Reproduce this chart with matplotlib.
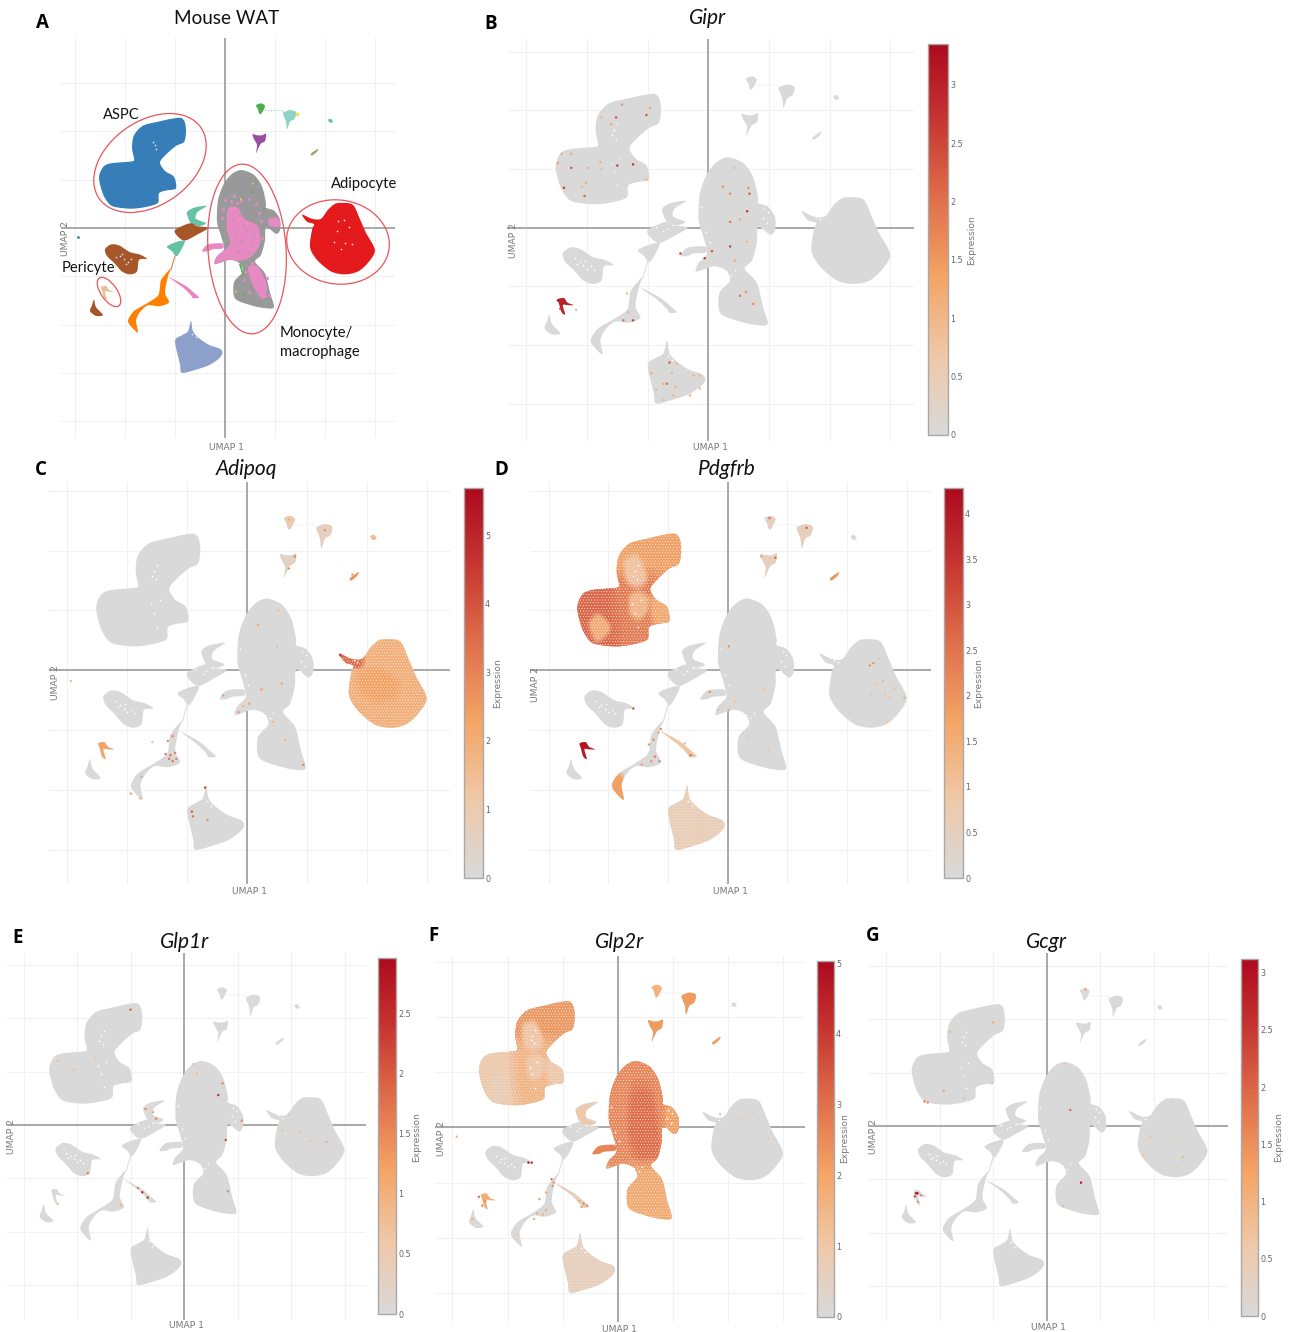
import numpy as np
import matplotlib
matplotlib.use('Agg')
import matplotlib.pyplot as plt
from matplotlib.colors import LinearSegmentedColormap, Normalize
from matplotlib.cm import ScalarMappable
from matplotlib.patches import Polygon, Ellipse

# ---------- cluster outlines, in UMAP units ----------
aspc = [(-4.4,11.4),(-4.0,10.9),(-3.9,9.9),(-4.1,8.9),(-4.9,8.5),(-5.9,7.6),(-6.5,6.8),(-6.0,5.9),(-5.1,5.3),(-4.9,4.1),(-5.8,3.9),(-6.6,3.6),(-6.7,2.6),(-7.8,2.2),(-9.2,2.0),(-10.6,2.1),(-11.5,2.4),(-12.2,3.5),(-12.6,5.2),(-12.2,6.3),(-11.4,6.7),(-9.3,6.9),(-9.1,7.2),(-9.3,8.3),(-9.1,9.6),(-8.2,10.6),(-6.7,11.0),(-5.4,11.3)]
mono = [(1.65,6.0),(2.9,5.5),(3.7,4.3),(4.1,2.6),(4.1,2.1),(4.9,1.8),(5.5,0.9),(5.5,-0.2),(5.1,-0.6),(4.1,0.1),(4.0,-1.3),(3.6,-2.8),(3.0,-3.5),(4.0,-4.7),(4.5,-6.7),(4.9,-8.2),(4.0,-8.3),(2.6,-8.0),(1.0,-7.3),(0.9,-5.6),(1.8,-4.5),(1.4,-3.6),(0.4,-3.3),(-1.0,-3.75),(-0.8,-3.0),(-0.1,-2.2),(-0.4,-0.8),(-0.8,0.65),(-0.7,2.9),(-0.1,4.6),(0.7,5.6)]
mono_tail = [(-2.3,-2.4),(-1.7,-1.7),(-0.3,-1.6),(-0.2,-2.1),(-1.2,-2.2),(-1.7,-2.4)]
pink_main = [(0.5,2.2),(1.3,2.1),(2.0,0.9),(3.3,0.2),(3.5,-1.6),(2.7,-2.9),(1.5,-3.4),(0.4,-3.3),(-1.0,-3.7),(-0.8,-2.9),(0.5,-1.7),(0.2,-0.2),(0.2,1.6)]
pink_low = [(2.3,-4.1),(3.3,-4.0),(4.2,-6.0),(3.8,-7.4),(2.8,-6.0)]
pink_right = [(4.4,1.0),(5.3,1.0),(5.5,0.2),(4.5,0.2)]
adipocyte = [(11.7,2.6),(12.8,2.4),(13.5,0.9),(14.1,-0.5),(15.0,-2.3),(14.3,-3.6),(13.3,-4.5),(12.0,-4.8),(10.6,-4.5),(9.2,-3.3),(8.5,-2.0),(8.7,-0.2),(8.9,0.4),(8.2,0.65),(7.7,1.4),(8.7,0.95),(9.6,0.95),(10.3,1.9),(11.0,2.5)]
adipo_tail = [(7.5,1.6),(8.7,1.1),(9.7,1.1),(9.6,0.3),(8.9,0.2),(8.2,0.5)]
adipo_core = [(9.3,-0.3),(11.0,0.1),(12.6,-0.9),(12.4,-2.3),(10.6,-2.6),(9.4,-1.7)]
teal_up = [(-3.8,1.65),(-3.1,2.1),(-1.8,2.3),(-2.75,1.65),(-2.9,0.95),(-1.9,0.5),(-2.6,0.2),(-3.4,0.5),(-3.7,1.1)]
teal_low = [(-5.8,-1.9),(-4.7,-1.4),(-4.0,-1.4),(-4.8,-2.9),(-5.3,-2.4)]
brown_mid = [(-5.0,-0.2),(-3.5,0.5),(-2.8,0.2),(-1.7,0.0),(-2.8,-0.7),(-4.0,-1.3),(-4.7,-0.9)]
brown_big = [(-12.0,-2.2),(-11.4,-1.7),(-10.6,-1.8),(-9.5,-2.5),(-8.5,-2.75),(-7.8,-3.2),(-8.6,-3.3),(-8.8,-4.5),(-9.5,-4.8),(-10.3,-4.5),(-11.1,-3.6),(-11.8,-2.9)]
pericyte = [(-12.4,-6.1),(-11.9,-6.0),(-11.6,-6.4),(-11.1,-6.6),(-11.6,-6.6),(-12.0,-6.6),(-11.8,-7.4),(-12.1,-7.2),(-12.3,-6.5)]
brown_small = [(-13.1,-7.4),(-12.9,-8.2),(-12.2,-9.0),(-12.9,-9.1),(-13.5,-8.6),(-13.3,-8.0)]
orange = [(-5.4,-4.2),(-5.7,-5.0),(-6.0,-6.7),(-5.6,-7.7),(-6.6,-8.1),(-7.7,-8.0),(-8.5,-8.7),(-8.9,-9.6),(-8.7,-10.8),(-9.3,-10.3),(-9.7,-9.6),(-9.1,-8.6),(-7.8,-7.8),(-6.7,-7.0),(-6.5,-6.0),(-6.4,-5.4),(-5.9,-4.7)]
orange_tip = [(-10.0,-8.8),(-8.8,-8.8),(-8.5,-11.2),(-9.6,-10.8)]
strand = [(-5.6,-5.1),(-4.0,-5.95),(-3.0,-6.8),(-2.6,-7.2),(-3.2,-7.25),(-3.4,-6.95),(-4.2,-6.15)]
periwinkle = [(-3.4,-9.6),(-3.2,-10.7),(-2.6,-11.4),(-1.6,-12.1),(-0.5,-12.5),(-0.25,-13.0),(-0.7,-13.6),(-1.6,-14.2),(-2.7,-14.6),(-4.3,-15.0),(-4.5,-14.1),(-5.0,-11.7),(-4.3,-11.1),(-3.7,-10.7)]
green = [(3.1,12.7),(3.6,12.9),(4.0,12.6),(3.6,11.8),(3.4,11.9),(3.3,12.3)]
turquoise = [(5.9,12.0),(6.5,12.2),(7.1,12.0),(6.95,11.3),(6.5,11.0),(6.2,10.2),(6.1,11.0),(5.8,11.8)]
purple = [(2.75,9.7),(3.2,9.6),(3.7,9.6),(4.1,9.75),(4.0,9.0),(3.6,8.75),(3.3,8.2),(3.1,7.75),(3.2,8.6),(2.9,9.2)]
teal_dot = [(10.3,11.2),(10.6,11.3),(10.8,11.0),(10.5,10.9)]
sliver = [(8.6,7.7),(9.3,8.2),(9.2,7.9),(8.7,7.5)]
connect_x = [-5.0,-5.2,-5.4]
connect_y = [-2.9,-3.6,-4.3]
link_x = [4.0,4.6,5.4,5.9]
link_y = [12.2,12.15,12.2,12.05]

# sub-regions used to vary the mean expression inside a cluster
aspc_upper = [(-10,11.8),(-3,11.8),(-3,8),(-6,6.6),(-10,6.9)]
aspc_lower_left = [(-13,7.5),(-9.3,7.5),(-8.6,1),(-13,1)]
aspc_lower_mid = [(-9.3,7.5),(-5,7.5),(-5,3),(-8.6,1)]
aspc_right_lobe = [(-6.4,6.2),(-4.6,5.5),(-4.5,3.8),(-6.2,3.9)]
aspc_pale_up = [(-8.6,9.2),(-7.6,9.6),(-7.0,8.6),(-6.8,7.5),(-7.6,6.9),(-8.5,7.5)]
aspc_pale_low = [(-11.6,3.9),(-10.9,4.7),(-10.0,4.0),(-9.9,3.2),(-11,2.4)]
aspc_pale_mid = [(-8.2,6.2),(-7.4,6.6),(-6.6,6.0),(-6.8,4.8),(-7.5,4.2),(-8.2,4.8)]
mono_up = [(-2,7),(6,7),(6,-3.9),(-2,-3.9)]
mono_low = [(0,-3.9),(6,-3.9),(6,-9),(0,-9)]
mono_core = [(1.4,3.6),(3.0,3.4),(3.6,0.5),(3.8,-2.4),(2.4,-3.2),(1.2,-1.8),(1.0,1.0)]
mono_bump = [(4.4,2),(6,2),(6,-1),(4.4,-0.4)]
teal_rim = [(-3.8,1.8),(-1.6,2.3),(-2.4,1.5),(-2.9,0.7),(-1.6,0.2),(-2.8,0),(-3.8,0.8)]

REGIONS = dict(aspc_upper=aspc_upper, aspc_lower_left=aspc_lower_left,
               aspc_lower_mid=aspc_lower_mid, aspc_right_lobe=aspc_right_lobe,
               aspc_pale_up=aspc_pale_up, aspc_pale_low=aspc_pale_low, aspc_pale_mid=aspc_pale_mid,
               mono_up=mono_up, mono_low=mono_low, mono_core=mono_core, mono_bump=mono_bump,
               teal_rim=teal_rim, orange_tip=orange_tip, adipo_tail=adipo_tail, adipo_core=adipo_core)

CLUSTERS = dict(aspc=aspc, mono=mono, mono_tail=mono_tail, adipocyte=adipocyte, teal_up=teal_up,
                teal_low=teal_low, brown_mid=brown_mid, brown_big=brown_big, pericyte=pericyte,
                brown_small=brown_small, orange=orange, strand=strand, periwinkle=periwinkle,
                green=green, turquoise=turquoise, purple=purple, teal_dot=teal_dot, sliver=sliver)
COLORS_A = dict(aspc='#377eb8', mono='#999999', mono_tail='#e78ac3', adipocyte='#e41a1c', teal_up='#66c2a5',
                teal_low='#66c2a5', brown_mid='#a65628', brown_big='#a65628', pericyte='#e5c494',
                brown_small='#a65628', orange='#ff7f00', strand='#f07fc0', periwinkle='#8da0cb',
                green='#4daf4a', turquoise='#8dd3c7', purple='#984ea3', teal_dot='#66c2a5', sliver='#a8a060')

# stray points seen in panel A
pink_x = [0.0,-0.2,0.9,1.6,2.4,3.4,3.6,3.7,3.1,1.2,0.6,-0.3,4.2,4.4,4.0,2.0,2.7,1.9,2.4]
pink_y = [2.9,2.0,3.3,2.8,3.0,1.6,0.7,-1.0,2.5,2.6,2.8,1.0,-5.2,-6.9,-7.0,-4.6,-3.6,-5.4,-6.6]
grey_in_pink_x = [1.0,1.6,2.1,2.6,1.3,2.9,1.9,0.8,2.4,0.9,3.0,1.5]
grey_in_pink_y = [-0.6,-1.3,-0.2,-1.8,-2.4,-0.9,0.3,0.9,-2.6,-1.8,0.8,1.3]
speck_a_x = [2.8,3.4,1.6,2.7,3.9,0.8,3.2,4.1,1.1,1.9]
speck_a_y = [4.6,4.3,3.0,3.7,2.0,3.3,-7.0,-7.6,-6.6,-6.9]
speck_a_c = ['#e6d23c','#66c2a5','#e6d23c','#4daf4a','#4daf4a','#66c2a5','#66c2a5','#66c2a5','#e6d23c','#4daf4a']
green_bit_x = [1.5,1.8]
green_bit_y = [-3.8,-4.7]
blue_dot_x = [-14.7]
blue_dot_y = [-0.9]
yellow_x = [7.15]
yellow_y = [11.8]
white_a_x = [-7.2,-7.0,-6.9,-10.5,-10.1,-9.7,-10.9,-9.4,-10.3,-9.9,11.3,11.9,11.2,12.4,12.0,11.6,10.9,12.7,-3.3,-2.9]
white_a_y = [8.9,8.6,8.2,-2.9,-3.2,-3.5,-3.0,-3.2,-2.7,-3.7,0.7,0.8,-0.3,0.1,-1.6,-2.2,-1.5,-1.7,-11.0,-11.3]

# pale gaps visible in the grey clusters of every expression panel
gap_x = [-11,-10.6,-10.3,-10,-9.7,-10.8,-9.4,-10.2,4.5,4.8,4.6,4.9,4.4,-7.8,-7.5,-7.6,-7.9,-8,-7.8,-7.3,-7.5,1,1.5,0.6,1.9,2.2,8.9,9.2,-3.3,-3,-4.3,-3.7,-3.4,-2.9,-0.6,-0.2,0.1]
gap_y = [-2.6,-2.9,-3.2,-3.5,-3.3,-3.1,-3.6,-2.8,0.8,0.4,1.6,1.3,-0.1,8.3,8.8,7.6,7.9,5.5,4.8,5.9,3.6,-4.3,-3.7,-3.5,-4,-3.6,0.9,0.7,-10.9,-11.3,0.1,-0.3,-0.1,0.2,1.8,-0.4,-1.2]

# mean expression of a region, per panel (region, value)
TINT_GIPR = [('pericyte',3.0)]
TINT_ADIPOQ = [('adipocyte',1.95),('adipo_core',2.35),('adipo_tail',3.6),('pericyte',2.3),('green',0.9),('turquoise',0.6),('purple',0.5),('sliver',2.6),('teal_dot',1.6)]
TINT_PDGFRB = [('aspc_upper',1.8),('aspc_lower_left',2.75),('aspc_lower_mid',2.4),('aspc_right_lobe',1.6),
               ('aspc_pale_up',1.0),('aspc_pale_low',1.5),('aspc_pale_mid',1.3),('periwinkle',0.6),
               ('pericyte',4.0),('orange_tip',1.8),('sliver',2.0),('green',0.4),('turquoise',0.5),('purple',0.5),('strand',0.9)]
TINT_GLP1R = []
TINT_GLP2R = [('aspc_upper',2.3),('aspc_lower_left',0.95),('aspc_lower_mid',1.6),('aspc_right_lobe',0.9),
              ('aspc_pale_up',1.0),('aspc_pale_low',0.7),('aspc_pale_mid',1.0),
              ('mono_up',2.6),('mono_core',3.1),('mono_low',1.9),('mono_bump',2.1),('mono_tail',2.6),
              ('periwinkle',0.6),('green',1.6),('turquoise',2.2),('purple',2.2),('sliver',2.2),('teal_rim',1.0),('strand',0.6),('pericyte',1.8)]
TINT_GCGR = []

# single expressing cells (x, y, value)
GIPR_X = [-7.1,-7.6,-5.1,-4.8,-8,-8.8,-11.3,-9.9,-8.9,-8.8,-7.5,-6.2,-12.4,-12.1,-11.3,-11.9,-10.1,-10.2,-5.1,-10.4,1.2,2.1,1.8,3.3,3.4,3.2,2.6,1.8,1.8,3.2,0.3,-0.3,-2.3,2.2,2.6,3.1,3.7,-3.2,-2.6,-4.7,-3,-3.7,-3.4,-2.7,-1.2,-0.7,-4.3,-2.9,-1.5,-3.7,-0.7,-6.2,-7,-6.7,-6.6,-10.9,-12.4,-12.2]
GIPR_Y = [10.5,9.4,9.6,10.2,8.8,9.4,5.1,5.1,5.6,5,5.3,5.4,5.5,6.3,6.3,3.4,3.8,2.7,4.1,3.5,3.5,5.1,2.9,3.4,2.9,1.4,0.7,0.5,-1.6,-1.2,-2,-2.6,-2.2,-2.8,-5.8,-5.5,-6.5,-11.5,-11.6,-12.4,-12.4,-13.3,-13.3,-13.6,-12.6,-12.6,-13.8,-14.3,-14.3,-14.7,-13.7,-7.9,-7.9,-5.6,-7.2,-7,-6.2,-6.9]
GIPR_V = [1.6,2.4,2.4,1.2,1.3,1,2.4,1.2,1.2,1,2.8,2.8,1.4,1.2,1.2,2.6,1.2,2.2,1.1,1,1.6,1,1.6,1.6,2.4,2.8,1.2,2,2.6,1,2.4,2.8,2.6,1.2,2,1.6,1.6,2.3,1.2,1.2,1.1,1.3,2,1.2,1.1,1,1,1.1,1.1,1,1,2.6,2,1,1,1,3.3,2.6]
ADIPOQ_X = [3.5,6.5,4,3.5,10.5,8.8,-6.4,-6.2,-6.6,-8.8,-8.9,-5.9,-6.2,-6,-6.5,-4.6,-3.5,-3.3,-2,0.2,-0.7,1.2,2.9,2.5,2.6,0.9,4.7,3.2,2.2,-14.7,-7.9,-9.7,-6.8,-4.5,7.8,-0.3]
ADIPOQ_Y = [12.6,11.7,9.5,8.5,11.2,8,-7.1,-5.5,-5.9,-8.9,-10.7,-7.4,-7.6,-6.9,-7.4,-11.8,-9.8,-12.5,-2.1,-2.8,-3.5,-1.6,-1.1,2,5,3.8,-7.9,-5.8,-4.3,-0.9,-6.0,-10.3,-7.0,-12.2,1.25,-3.0]
ADIPOQ_V = [2.2,2.8,3,2.6,1.5,2.4,3.6,3,3,2.4,2,3,3.4,3,3.2,4,4.4,2.8,2.4,2.4,2.6,2.4,2.2,1.6,1.6,2,3,1.8,1.8,1.6,1.4,2.4,3.2,3.4,5,1.8]
PDGFRB_X = [12.2,13,14.8,14,11.9,12.5,13.4,10.2,12.7,12,13.6,13.2,0.1,0.7,3,0.1,-0.8,0.6,1.7,3.4,3.5,6.6,4,2.8,-1.5,-7.9,-3.1,-5.7,-6.4,-6.2,-6.6,-7.2,-5.8,-6.1,-5.6,-3.6]
PDGFRB_Y = [0.6,-0.9,-2.3,-1.5,0.4,-1.2,-4.3,-3.5,1,-2,-2.3,-2,2,2.5,-1.6,-3.3,-3.3,-2.6,-5.5,-6.7,12.7,11.9,9.4,9.5,-1.8,-3.2,-7.1,-7.6,-7.6,-5.8,-6.2,-7.9,-5.2,-7.2,-4.9,-6.1]
PDGFRB_V = [2,1.2,1.5,1,2,1,1,1,1,1,1,1,2,1,1,1.5,1.2,1,1,1,2.6,2.8,2.6,1.5,2,3,2.6,2.2,2,2.2,2,1.8,1.8,2.4,2,1.2]
GLP1R_X = [-5,-11.8,-10.3,-8.3,0.9,1.2,3.6,3.2,5.4,3.9,4.1,-3.6,-2.9,-2.6,-3.9,-3.4,-4.3,-9,-5.9,-11.8,9.8,11.5,9.2,10.8,11.8,13.3,13.5]
GLP1R_Y = [10.8,6,5.2,6.3,5.7,4.8,3.9,2.8,0.4,-1.4,-6.2,1.5,1.2,0.6,-6.3,-6.8,-5.9,-4.5,-7.5,-7.4,1,1,-0.5,-0.6,-1.5,-1.6,0]
GLP1R_V = [2,0.8,0.7,0.6,0.8,0.8,1.5,2.5,1.5,2.2,1.5,1.5,1.2,1.6,2.6,2.6,1.6,1.6,1,0.8,0.6,0.5,0.7,0.7,0.7,1,0.6]
GLP2R_X = [-8.1,-14.6,-7.8,9.3,11.2,12.8,13.2,13.7,-2.8,-3.1,-3.5,-3.3,-6,-5.9,-6.5,-7.3,-7.6,-9.1,-12.6,-12,-12.3,-13.2,-7.1,-6.5,-5.8,-6.8]
GLP2R_Y = [-3.2,-0.85,-3.2,1.2,0.8,0.7,-2.2,-1,-7.1,-6.9,-6.7,-7.2,-4.7,-5.3,-5.9,-7.8,-8.3,-9.7,-6.3,-6.7,-7.1,-8.3,-6.5,-7.5,-5.0,-7.9]
GLP2R_V = [4.8,1.5,4.5,1,1,1,1,1,2.4,2.6,2,2,3,2.4,2,1.8,1.8,1,3,2.6,2.6,1.6,2.2,1.8,2.4,1.8]
GCGR_X = [3.6,-5,-9,-9.6,-11.4,-11.1,-7.7,-5.1,1.8,2.2,3.2,1.5,-12.2,-12.05,-12,-11.7,9.7,9,11.6,12.2,12.7,12.2,11.7,-5,-12.3]
GCGR_Y = [12.8,9.7,8.8,3.3,2.3,2.2,2.6,4,5.9,1.5,-5.3,-7.5,-6.3,-6.3,-7.1,-6.5,-1,-2.8,-0.1,-1.4,-2.9,-3.8,2.2,-1.7,-6.6]
GCGR_V = [1.3,1.2,1,1.2,1.8,1.5,0.9,0.8,0.7,1.9,3,1,3,3.1,1.5,1.6,0.7,0.7,0.5,0.6,0.9,0.5,0.4,0.5,2.4]

# ---------- layout (pixels of the 1294x1332 image) ----------
W, H = 1294, 1332
cmap = LinearSegmentedColormap.from_list('expr', [(0,'#d9d9d9'),(0.2,'#efc8a8'),(0.4,'#f4a566'),(0.62,'#de6a48'),(0.82,'#c4322f'),(1,'#ad0a1e')])
SANS = ['Lato','DejaVu Sans']
GREY_LABEL = '#777777'
plt.rcParams['hatch.linewidth'] = 0.4

fig = plt.figure(figsize=(W/100, H/100), dpi=100, facecolor='white')

def smooth(pts, n=6, k=0.42):
    """Closed cardinal spline through the read points."""
    p = np.asarray(pts, float)
    m0 = k*(np.roll(p, -1, 0) - np.roll(p, 1, 0))
    m1 = np.roll(m0, -1, 0)
    q = np.roll(p, -1, 0)
    out = []
    for t in np.linspace(0, 1, n, endpoint=False):
        out.append((2*t**3-3*t**2+1)*p + (t**3-2*t**2+t)*m0 + (-2*t**3+3*t**2)*q + (t**3-t**2)*m1)
    return np.stack(out, 1).reshape(-1, 2)

def make_axes(box, cross, unit):
    L, T, R, B = box
    cx, cy = cross
    sx, sy = unit
    ax = fig.add_axes([L/W, 1-B/H, (R-L)/W, (B-T)/H])
    ax.set_xticks(np.arange(-15, 16, 5))
    ax.set_yticks(np.arange(-20, 21, 5))
    ax.set_xlim((L-cx)/sx, (R-cx)/sx)
    ax.set_ylim((cy-B)/sy, (cy-T)/sy)
    ax.tick_params(length=0, labelbottom=False, labelleft=False)
    ax.grid(True, color='#f1f1f1', lw=0.8)
    ax.set_axisbelow(True)
    for s in ax.spines.values():
        s.set_visible(False)
    ax.axhline(0, color='#a3a3a3', lw=1.3, zorder=1)
    ax.axvline(0, color='#a3a3a3', lw=1.3, zorder=1)
    return ax

def fill(ax, pts, color, z=2, **kw):
    patch = Polygon(smooth(pts), closed=True, facecolor=color, edgecolor='none', lw=0, zorder=z, **kw)
    ax.add_patch(patch)
    return patch

def parent_of(name):
    for prefix, parent in (('aspc','aspc'),('mono','mono'),('teal','teal_up'),('orange','orange'),('adipo','adipocyte')):
        if name.startswith(prefix):
            return parent

def grey_panel(ax, tints, vmax, xs, ys, vs):
    norm = Normalize(0, vmax)
    bases = {name: fill(ax, pts, '#d9d9d9', 2) for name, pts in CLUSTERS.items()}
    ax.plot(connect_x, connect_y, color='#d9d9d9', lw=0.7, zorder=2)
    ax.plot(link_x, link_y, color='#d9d9d9', lw=0.6, ls=(0, (1, 2)), zorder=2)
    stippled = set()
    for i, (name, val) in enumerate(tints):
        col = cmap(norm(val))
        z = 3 + i*0.01
        if name in CLUSTERS:
            fill(ax, CLUSTERS[name], col, z)
            if name in ('adipocyte','periwinkle'):
                stippled.add(name)
        else:
            parent = parent_of(name)
            if parent in ('aspc','mono'):
                stippled.add(parent)
            centre = np.mean(REGIONS[name], axis=0)
            # nested copies soften the region's edge
            for scale, alpha in ((1.16, 0.35), (1.0, 0.5), (0.84, 0.9)):
                pts = centre + (np.asarray(REGIONS[name], float) - centre)*scale
                patch = Polygon(smooth(pts), closed=True, facecolor=col, edgecolor='none', lw=0, alpha=alpha, zorder=z)
                ax.add_patch(patch)
                patch.set_clip_path(bases[parent])
    for name in stippled:
        ax.add_patch(Polygon(smooth(CLUSTERS[name]), closed=True, facecolor='none', edgecolor='#f3e2d8',
                             lw=0, hatch='......', zorder=3.6))
    ax.scatter(gap_x, gap_y, s=1.6, c='white', lw=0, zorder=4)
    ax.scatter(xs, ys, s=3, c=vs, cmap=cmap, vmin=0, vmax=vmax, lw=0, zorder=5)

def colorbar(box, vmax, ticks, labels):
    L, T, R, B = box
    cax = fig.add_axes([L/W, 1-B/H, (R-L)/W, (B-T)/H])
    cb = fig.colorbar(ScalarMappable(Normalize(0, vmax), cmap), cax=cax)
    cb.set_ticks(ticks, labels=labels)
    cb.ax.tick_params(length=0, pad=1.5, labelsize=5.8, labelcolor='#666666')
    cb.outline.set_edgecolor('#a8a8a8')
    cb.outline.set_linewidth(1.0)

# panel A
axA = make_axes((61,38,395,438), (225,228), (10.0,9.66))
for name, pts in CLUSTERS.items():
    fill(axA, pts, COLORS_A[name], 2)
fill(axA, pink_main, '#e78ac3', 3); fill(axA, pink_low, '#e78ac3', 3); fill(axA, pink_right, '#e78ac3', 3)
axA.plot(connect_x, connect_y, color='#c08a50', lw=0.8, zorder=2)
axA.plot(link_x, link_y, color='#66c2a5', lw=0.7, ls=(0, (1, 2)), zorder=2)
axA.plot(green_bit_x, green_bit_y, color='#4daf4a', lw=1.2, zorder=4)
axA.scatter(pink_x, pink_y, s=5, c='#e78ac3', lw=0, zorder=4)
axA.scatter(grey_in_pink_x, grey_in_pink_y, s=2.5, c='#a89aa5', lw=0, zorder=4)
axA.scatter(speck_a_x, speck_a_y, s=2, c=speck_a_c, lw=0, zorder=5)
axA.scatter(white_a_x, white_a_y, s=1.5, c='#dfe6e8', lw=0, zorder=5)
axA.scatter(blue_dot_x, blue_dot_y, s=4, c='#377eb8', lw=0, zorder=5)
axA.scatter(yellow_x, yellow_y, s=8, c='#f0df50', lw=0, zorder=5)

# expression panels
panels = [
 dict(box=(507,39,914,441), cross=(708.3,227.7), unit=(12.13,11.73), tints=TINT_GIPR, vmax=3.35, pts=(GIPR_X,GIPR_Y,GIPR_V),
      cb=(928,44,948,435), ticks=[0,.5,1,1.5,2,2.5,3], labels=['0','0.5','1','1.5','2','2.5','3']),
 dict(box=(49,482,450,884), cross=(247,670.3), unit=(11.98,11.97), tints=TINT_ADIPOQ, vmax=5.69, pts=(ADIPOQ_X,ADIPOQ_Y,ADIPOQ_V),
      cb=(464,488,483,878), ticks=[0,1,2,3,4,5], labels=['0','1','2','3','4','5']),
 dict(box=(530,482,931,884), cross=(727.7,670.3), unit=(11.94,11.97), tints=TINT_PDGFRB, vmax=4.28, pts=(PDGFRB_X,PDGFRB_Y,PDGFRB_V),
      cb=(944,488,963,878), ticks=[0,.5,1,1.5,2,2.5,3,3.5,4], labels=['0','0.5','1','1.5','2','2.5','3','3.5','4']),
 dict(box=(7,953,366,1320), cross=(184,1125), unit=(10.7,10.68), tints=TINT_GLP1R, vmax=2.96, pts=(GLP1R_X,GLP1R_Y,GLP1R_V),
      cb=(378,958,396,1314), ticks=[0,.5,1,1.5,2,2.5], labels=['0','0.5','1','1.5','2','2.5']),
 dict(box=(435,956,805,1322), cross=(617.7,1127.3), unit=(11.02,11.04), tints=TINT_GLP2R, vmax=5.03, pts=(GLP2R_X,GLP2R_Y,GLP2R_V),
      cb=(817,961,834,1317), ticks=[0,1,2,3,4,5], labels=['0','1','2','3','4','5']),
 dict(box=(868,953,1228,1321), cross=(1046.7,1126), unit=(10.72,10.68), tints=TINT_GCGR, vmax=3.12, pts=(GCGR_X,GCGR_Y,GCGR_V),
      cb=(1241,959,1258,1316), ticks=[0,.5,1,1.5,2,2.5,3], labels=['0','0.5','1','1.5','2','2.5','3']),
]
for p in panels:
    ax = make_axes(p['box'], p['cross'], p['unit'])
    grey_panel(ax, p['tints'], p['vmax'], *p['pts'])
    colorbar(p['cb'], p['vmax'], p['ticks'], p['labels'])

# overlay in image pixels: titles, labels, circles
ov = fig.add_axes([0,0,1,1], facecolor='none')
ov.set_xlim(0, W); ov.set_ylim(H, 0); ov.axis('off')

letters = ['A','B','C','D','E','F','G']
letter_xy = [(42,23),(491,24),(41,470),(501,470),(18,938),(434,936),(873,936)]
for t, (x, y) in zip(letters, letter_xy):
    ov.text(x, y, t, fontsize=13.5, fontweight='bold', ha='center', va='center', family=['Open Sans','DejaVu Sans'], color='black')

ov.text(227, 19, 'Mouse WAT', fontsize=13.6, ha='center', va='center', family=SANS, color='#111111')
genes = ['Gipr','Adipoq','Pdgfrb','Glp1r','Glp2r','Gcgr']
gene_xy = [(708,18),(246,469),(727,469),(185,942),(620,942),(1046,942)]
for t, (x, y) in zip(genes, gene_xy):
    ov.text(x, y, t, fontsize=15, style='italic', ha='center', va='center', family=SANS, color='#111111')

umap1_xy = [(226,447),(710,448),(249,891),(730,891),(186,1326),(619,1329),(1048,1327)]
umap2_xy = [(66,239),(513,240),(55,682),(535,684),(12,1137),(441,1138),(873,1137)]
expr_xy = [(972,240),(498,683),(979,683),(417,1137),(845,1138),(1279,1137)]
for x, y in umap1_xy:
    ov.text(x, y, 'UMAP 1', fontsize=6.6, color=GREY_LABEL, ha='center', va='center', family='DejaVu Sans')
for x, y in umap2_xy:
    ov.text(x, y, 'UMAP 2', fontsize=6.6, color=GREY_LABEL, ha='center', va='center', rotation=90, family='DejaVu Sans')
for x, y in expr_xy:
    ov.text(x, y, 'Expression', fontsize=6.6, color=GREY_LABEL, ha='center', va='center', rotation=90, family='DejaVu Sans')

names = ['ASPC','Adipocyte','Pericyte','Monocyte/','macrophage']
name_xy = [(103,115),(331,184),(62,268),(280,333),(280,352)]
for t, (x, y) in zip(names, name_xy):
    ov.text(x, y, t, fontsize=10.6, ha='left', va='center', family=SANS, color='#111111')

rings = [((150,163),124,84,-35),((247,249),78,170,-4),((338,242),103,84,8),((109,292),34,16,55)]
for c, w, h, a in rings:
    ov.add_patch(Ellipse(c, w, h, angle=a, fill=False, edgecolor='#e8555c', lw=0.9))

fig.savefig('out.png', dpi=100)
